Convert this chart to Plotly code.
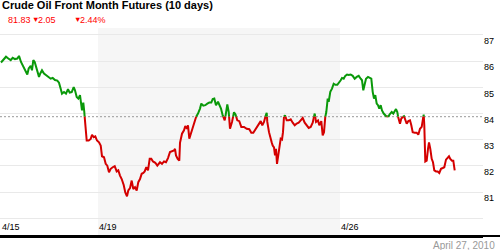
import plotly.graph_objects as go

# ---- data (time index ~ 30-min steps, price) ----
t = [1, 3.3, 6, 8.3, 10.7, 12.7, 15, 17.3, 19, 21, 23.3, 25.7, 27.3, 28.7, 30.7, 32, 33.3, 34.7, 36, 37.7,
     39, 40.3, 42, 44, 46.7, 49, 50.7, 52.7, 55, 57.3, 59, 60.7, 62, 64, 66, 68, 69.7, 71.7, 73.7, 75,
     76.7, 78.3, 80, 82, 83.3, 84.3, 85.3, 86.7, 88.7, 90.7, 92, 93.7, 95.3, 97, 99, 100.7, 102, 104, 105.7, 107.3,
     109, 110.7, 112.7, 114.7, 116.7, 118.3, 120, 121.7, 123.7, 125.3, 127, 128.3, 130, 131.7, 133.3, 135, 136.7, 138.3, 140, 141.7,
     143.3, 144.7, 146.3, 148, 149.7, 151.3, 153, 155.3, 157.3, 160, 162, 164, 166, 168, 170, 172, 174, 175, 176, 177.7,
     179.3, 180, 182, 184, 185.3, 187, 188, 189.3, 191, 192.7, 194.3, 196, 198, 200, 201.3, 203.3, 205.3, 207.3, 209.3, 211.3,
     212.7, 214.3, 216, 218, 219.3, 221, 222.7, 224.7, 226, 227.3, 228.7, 230, 232, 234, 235.5, 237.3, 239.3, 241.3, 244, 246.7,
     249.3, 251.3, 253.3, 255.3, 257.3, 259.3, 260.7, 262.3, 264, 265.7, 266.7, 267.3, 269, 270.7, 271.7, 272.7, 274, 275, 276, 277,
     278, 279, 280.7, 282, 283, 284, 285, 286.7, 288.7, 290.7, 292.7, 294.7, 296.7, 298.7, 300.7, 302.7, 304.7, 306.7, 308.7, 310.7,
     312.7, 314.7, 316, 318, 319.3, 321.3, 322.7, 324, 325.3, 326.3, 327.7, 328.7, 330.3, 332, 333.7, 335.3, 337.3, 339.3, 340.7, 342,
     343.7, 345.3, 347, 348.7, 350.7, 352.7, 354.7, 356.7, 358.7, 360.7, 362, 363.3, 364.7, 366, 368, 370, 371.3, 372.7, 374, 375.3,
     376.7, 378, 379.3, 380.7, 382, 383.7, 385.3, 387, 388.7, 390.3, 391.7, 393.3, 395, 396, 397.3, 398.7, 400, 401.3, 402.7, 404,
     405.3, 406.7, 408.3, 410, 411.3, 412.7, 414.7, 416.7, 418.3, 420, 421.7, 422.7, 423.7, 424.3, 425.3, 426.7, 428, 429, 430.3, 431.7,
     433, 434.3, 436, 437.7, 439.3, 441, 442.7, 444.3, 446, 447.7, 449, 450.3, 452, 453.3, 454.7]
price = [85.95, 86.04, 86.17, 86.10, 86.04, 86.13, 86.08, 86.10, 86.20, 85.97, 85.78, 85.59, 85.49, 85.72, 85.82, 85.65, 86.04, 85.97, 85.78, 85.62,
         85.40, 85.53, 85.65, 85.53, 85.44, 85.40, 85.33, 85.36, 85.28, 85.26, 85.18, 84.95, 84.76, 84.82, 84.76, 84.93, 84.80, 84.82, 85.01, 84.89,
         84.63, 84.57, 84.70, 84.12, 84.42, 84.06, 83.55, 82.97, 82.97, 83.03, 83.19, 83.10, 83.13, 82.97, 82.90, 82.78, 82.37, 82.33, 82.08, 82.01,
         81.76, 81.89, 81.95, 81.99, 81.79, 81.83, 81.63, 81.50, 81.27, 80.99, 80.84, 81.06, 81.15, 81.44, 81.12, 81.19, 81.06, 81.38, 81.50, 81.70,
         81.73, 81.79, 81.95, 81.83, 82.27, 82.27, 82.17, 82.12, 82.01, 82.14, 82.08, 82.17, 82.14, 82.30, 82.53, 82.55, 82.59, 82.65, 82.40, 82.27,
         82.20, 82.88, 83.23, 83.36, 83.52, 83.42, 83.55, 83.04, 83.23, 83.42, 83.65, 83.87, 84.00, 84.19, 84.38, 84.30, 84.32, 84.38, 84.42, 84.42,
         84.55, 84.57, 84.32, 84.45, 84.32, 84.19, 83.93, 83.74, 84.00, 84.35, 84.06, 83.42, 83.68, 84.05, 83.97, 83.74, 83.71, 83.49, 83.49, 83.42,
         83.40, 83.27, 83.27, 83.40, 83.49, 83.65, 83.71, 83.55, 83.68, 83.93, 84.03, 83.68, 83.29, 83.10, 82.90, 82.78, 82.71, 82.40, 82.65, 82.08,
         82.40, 82.71, 83.04, 83.01, 83.29, 83.88, 83.93, 83.74, 83.74, 83.78, 83.65, 83.55, 83.62, 83.65, 83.74, 83.83, 83.65, 83.55, 83.45, 83.49,
         83.65, 84.00, 83.68, 83.74, 83.55, 83.71, 83.17, 83.29, 83.88, 84.06, 84.57, 84.45, 84.83, 84.95, 85.14, 85.10, 85.10, 85.18, 85.27, 85.36,
         85.33, 85.44, 85.49, 85.47, 85.49, 85.44, 85.33, 85.40, 85.44, 85.33, 85.27, 84.89, 85.08, 85.33, 85.40, 85.36, 85.33, 84.83, 84.57, 84.70,
         84.38, 84.32, 84.19, 84.32, 84.12, 84.00, 83.93, 83.87, 83.91, 84.00, 84.06, 84.00, 84.15, 84.17, 84.06, 83.74, 83.61, 83.81, 83.87, 83.90,
         83.74, 83.61, 83.71, 83.74, 83.55, 83.29, 83.27, 83.27, 83.19, 83.42, 83.49, 83.74, 83.96, 83.55, 82.17, 82.20, 82.65, 82.90, 82.65, 82.27,
         82.14, 81.83, 81.79, 81.79, 81.73, 81.89, 81.92, 81.95, 82.24, 82.33, 82.37, 82.27, 82.20, 82.20, 81.83]

prev_close = 83.88
tick_pos = [1, 98, 340]
tick_labels = ["4/15", "4/19", "4/26"]
week_band = [98, 340]
y_ticks = [80, 81, 82, 83, 84, 85, 86, 87]
y_labels = ["", "81", "82", "83", "84", "85", "86", "87"]
title = "Crude Oil Front Month Futures (10 days)"
date_label = "April 27, 2010"

GREEN = "#0a990a"
RED = "#d40000"
FONT = "Liberation Sans, Arial, sans-serif"

# ---- split line into above / below previous close ----
xs, ys = [], []
for i in range(len(t)):
    if i > 0:
        p0, p1 = price[i - 1], price[i]
        if (p0 - prev_close) * (p1 - prev_close) < 0:
            f = (prev_close - p0) / (p1 - p0)
            xs.append(t[i - 1] + f * (t[i] - t[i - 1]))
            ys.append(prev_close)
    xs.append(t[i])
    ys.append(price[i])
gy = [v if v >= prev_close else None for v in ys]
ry = [v if v <= prev_close else None for v in ys]

fig = go.Figure()
fig.add_trace(go.Scatter(x=xs, y=gy, mode="lines", line=dict(color=GREEN, width=2),
                         connectgaps=False, hoverinfo="skip"))
fig.add_trace(go.Scatter(x=xs, y=ry, mode="lines", line=dict(color=RED, width=2),
                         connectgaps=False, hoverinfo="skip"))

last = price[-1]
chg = prev_close - last
pct = chg / prev_close * 100

fig.update_layout(
    width=500, height=250, margin=dict(l=0, r=0, t=0, b=0),
    paper_bgcolor="white", plot_bgcolor="white", showlegend=False,
    font=dict(family=FONT, size=9, color="#000"),
    xaxis=dict(domain=[0, 0.966], range=[0, 483], tickvals=tick_pos, ticktext=tick_labels,
               ticklabelposition="inside right", showgrid=False, zeroline=False,
               showline=True, linecolor="#000", linewidth=2,
               ticks="", tickfont=dict(size=9, color="#000", family=FONT)),
    yaxis=dict(domain=[0.056, 0.888], range=[79.324, 87.267], side="right", tickvals=y_ticks,
               ticktext=y_labels, showgrid=True, gridcolor="#e9e9e9", gridwidth=1, zeroline=False,
               ticks="", ticklabelshift=6, tickfont=dict(size=9, color="#000", family=FONT)),
    shapes=[
        dict(type="rect", xref="x", yref="paper", x0=week_band[0], x1=week_band[1], y0=0.056, y1=0.888,
             fillcolor="#f6f6f6", line=dict(width=0), layer="below"),
        dict(type="line", xref="paper", yref="y", x0=0, x1=0.966, y0=prev_close, y1=prev_close,
             line=dict(color="#999999", width=1, dash="2px,2px"), layer="below"),
        dict(type="line", xref="paper", yref="paper", x0=0, x1=1, y0=0.056, y1=0.056,
             line=dict(color="#000000", width=2), layer="above"),
    ],
    annotations=[
        dict(text="<b>" + title + "</b>", x=0, y=0.98, xref="paper", yref="paper", xanchor="left",
             yanchor="middle", showarrow=False, font=dict(size=11, color="#000", family=FONT)),
        dict(text=f"{last:.2f}", x=6 / 500, y=0.92, xref="paper", yref="paper", xanchor="left",
             yanchor="middle", showarrow=False, font=dict(size=9, color="#ff0000", family=FONT)),
        dict(text="▼", x=30 / 500, y=0.922, xref="paper", yref="paper", xanchor="left",
             yanchor="middle", showarrow=False, font=dict(size=7.5, color="#ff0000", family=FONT)),
        dict(text=f"{chg:.2f}", x=36 / 500, y=0.92, xref="paper", yref="paper", xanchor="left",
             yanchor="middle", showarrow=False, font=dict(size=9, color="#ff0000", family=FONT)),
        dict(text="▼", x=72 / 500, y=0.922, xref="paper", yref="paper", xanchor="left",
             yanchor="middle", showarrow=False, font=dict(size=7.5, color="#ff0000", family=FONT)),
        dict(text=f"{pct:.2f}%", x=78 / 500, y=0.92, xref="paper", yref="paper", xanchor="left",
             yanchor="middle", showarrow=False, font=dict(size=9, color="#ff0000", family=FONT)),
        dict(text=date_label, x=497 / 500, y=0.02, xref="paper", yref="paper", xanchor="right",
             yanchor="middle", showarrow=False, font=dict(size=10, color="#999999", family=FONT)),
    ],
)

fig.write_html("out.html")
